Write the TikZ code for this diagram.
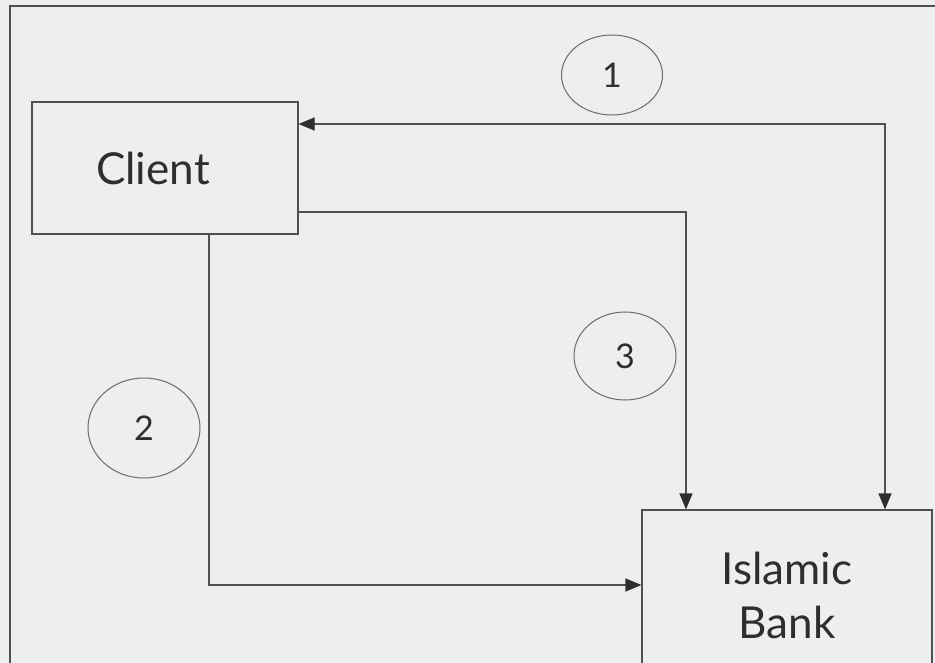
\documentclass[tikz,border=0pt]{standalone}
\usepackage{fontspec}
\setmainfont{Lato}
\usetikzlibrary{arrows.meta,shapes.geometric}
\definecolor{paper}{HTML}{EEEEEE}
\definecolor{ink}{HTML}{505050}
\definecolor{txt}{HTML}{2E2E2E}
\begin{document}
\begin{tikzpicture}[x=1pt,y=-1pt,
  box/.style={draw=ink, line width=1.1pt, rectangle, inner sep=0pt,
    text=txt, font=\fontsize{44}{54}\selectfont, align=center},
  badge/.style={draw=ink!85, line width=1pt, ellipse, inner sep=0pt,
    text=txt, font=\fontsize{34}{38}\selectfont},
  link/.style={draw=ink, line width=1.1pt},
  head/.style={-{Triangle[length=16pt,width=13pt,color=txt]}},
  heads/.style={{Triangle[length=16pt,width=13pt,color=txt]}-{Triangle[length=16pt,width=13pt,color=txt]}}]
\useasboundingbox (0,0) rectangle (935,663);
\fill[paper] (0,0) rectangle (935,663);
\begin{scope}
\clip (0,0) rectangle (935,663);
% outer frame
\draw[ink, line width=1.1pt] (10,6) rectangle (960,700);
% parties
\node[box, minimum width=266pt, minimum height=132pt] (client) at (165,168) {\hspace*{-24pt}Client};
\node[box, minimum width=290pt, minimum height=170pt] (bank) at (787,595) {Islamic\\Bank};
% numbered steps
\node[badge, minimum width=101pt, minimum height=80pt] (c1) at (612,75) {1};
\node[badge, minimum width=112pt, minimum height=100pt] (c2) at (144,428) {2};
\node[badge, minimum width=102pt, minimum height=88pt] (c3) at (625,356) {3};
% bend points
\coordinate (k1) at (885,124);
\coordinate (k3) at (686,212);
\coordinate (k2) at (209,585);
% step 1: two-way link between client and bank
\draw[link, heads] (client.east |- k1) -- (k1) -- (bank.north -| k1);
% step 3: client to bank from the right side
\draw[link, head] (client.east |- k3) -- (k3) -- (bank.north -| k3);
% step 2: client to bank from below
\draw[link, head] (client.south -| k2) -- (k2) -- (bank.west |- k2);
\end{scope}
\end{tikzpicture}
\end{document}
